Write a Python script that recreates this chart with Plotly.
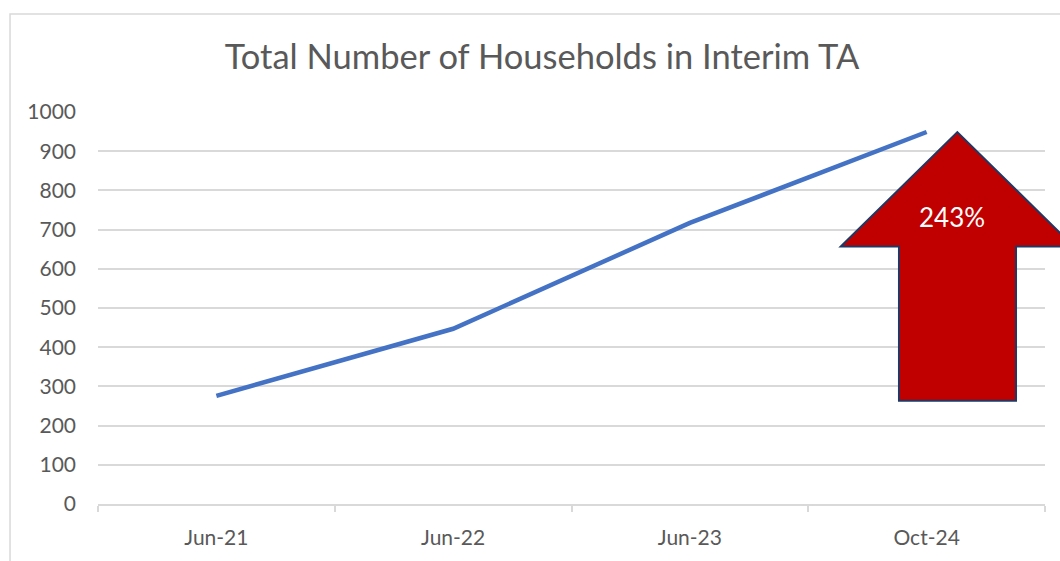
import plotly.graph_objects as go

categories = ["Jun-21", "Jun-22", "Jun-23", "Oct-24"]
households = [276, 447, 717, 949]
y_ticks = [0, 100, 200, 300, 400, 500, 600, 700, 800, 900, 1000]
title_text = "Total Number of Households in Interim TA"
arrow_label = "243%"

FONT = "Lato"
GREY = "#595959"
GRID = "#d9d9d9"

fig = go.Figure()
fig.add_trace(go.Scatter(
    x=categories, y=households, mode="lines",
    line=dict(color="#4472C4", width=4.5),
    hoverinfo="skip", showlegend=False,
))

# arrow polygon (paper coords)
pts = [(0.9074, 0.9487), (0.7843, 0.6569), (0.8458, 0.6569), (0.8458, 0.2635),
       (0.9694, 0.2635), (0.9694, 0.6569), (1.0306, 0.6569)]
path = "M " + " L ".join(f"{x},{y}" for x, y in pts) + " Z"
fig.add_shape(type="path", path=path, xref="paper", yref="paper",
              fillcolor="#C00000", line=dict(color="#1F3864", width=2), layer="above")
# chart border
fig.add_shape(type="rect", xref="paper", yref="paper",
              x0=-0.0929, y0=-0.2, x1=1.05, y1=1.2503,
              line=dict(color=GRID, width=1.5), fillcolor="rgba(0,0,0,0)", layer="below")

fig.add_annotation(text=arrow_label, xref="paper", yref="paper", x=0.9014, y=0.7312,
                   xanchor="center", yanchor="middle",
                   showarrow=False, font=dict(family=FONT, size=26, color="white"))

fig.update_layout(
    width=1060, height=561,
    margin=dict(l=98, r=15, t=112, b=52),
    paper_bgcolor="white", plot_bgcolor="white",
    title=dict(text=title_text, x=542 / 1060, xanchor="center", xref="container",
               y=1 - 57 / 561, yref="container", yanchor="middle",
               font=dict(family=FONT, size=34.5, color=GREY)),
    xaxis=dict(type="category", range=[-0.5, 3.5], showgrid=False,
               showline=True, linecolor=GRID, linewidth=1.5,
               ticks="outside", tickson="boundaries", ticklen=6, tickcolor=GRID, tickwidth=1.5,
               tickfont=dict(family=FONT, size=21, color=GREY), ticklabelstandoff=14,
               fixedrange=True),
    yaxis=dict(range=[0, 1000], tickvals=y_ticks, showgrid=True, gridcolor=GRID, gridwidth=1.5,
               zeroline=False, showline=False,
               tickfont=dict(family=FONT, size=21, color=GREY), ticklabelstandoff=21,
               fixedrange=True),
)

fig.write_html("out.html")
